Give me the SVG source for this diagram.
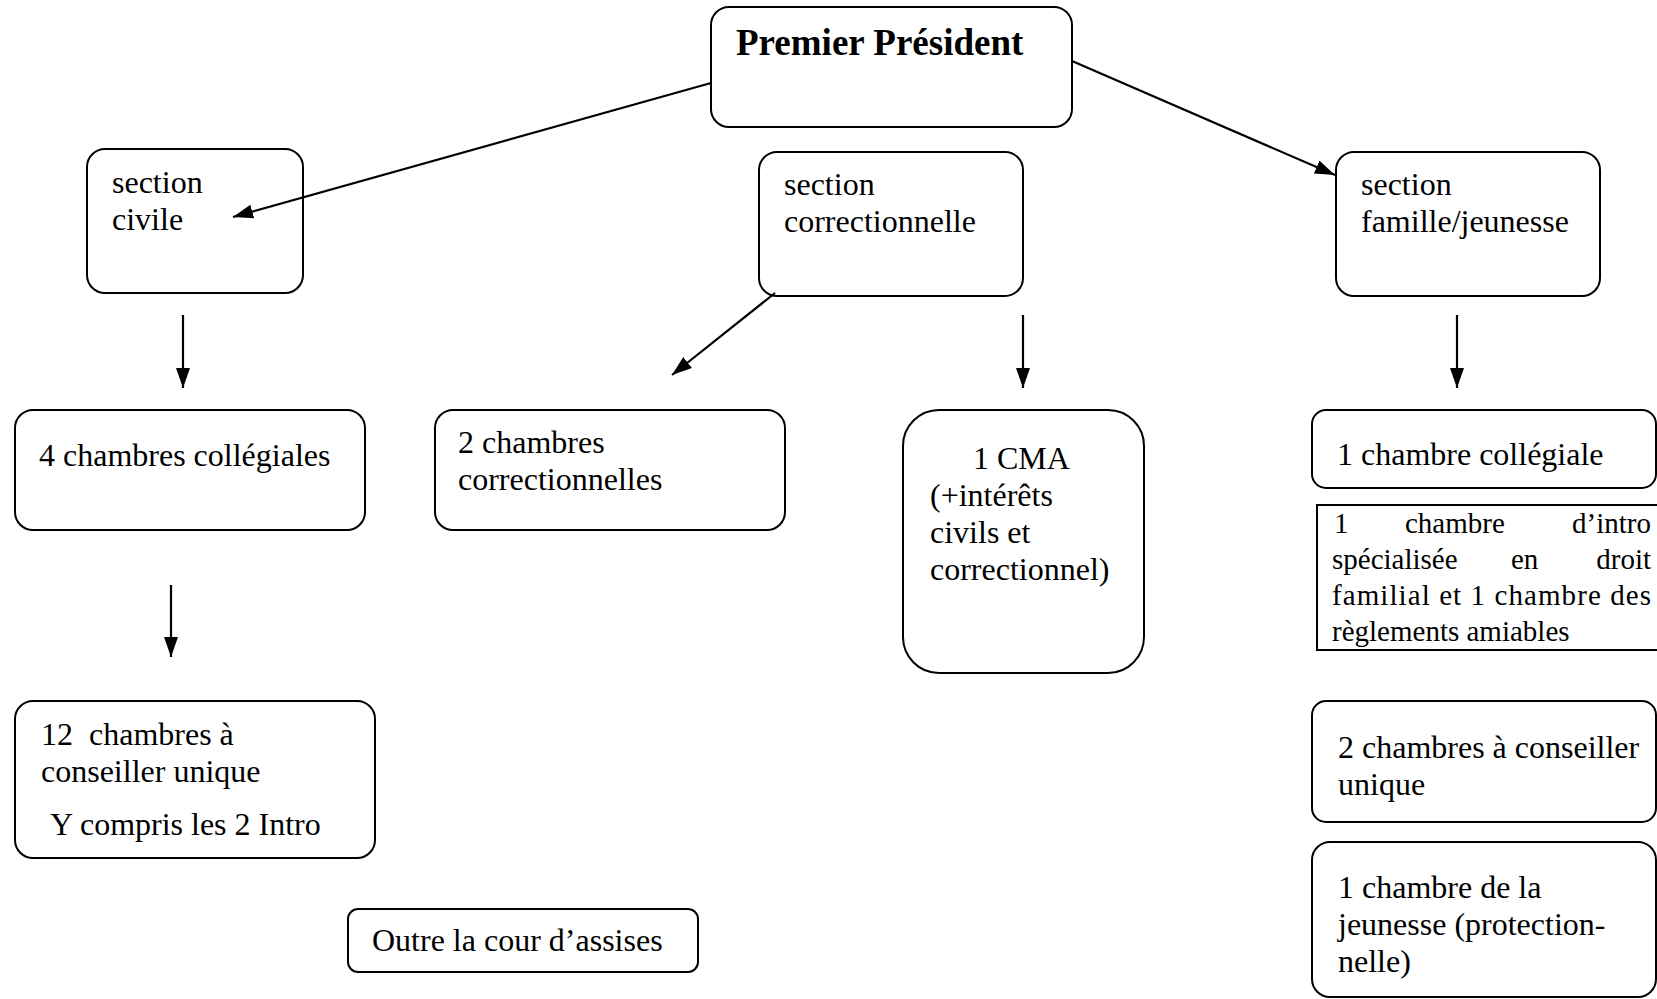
<svg xmlns="http://www.w3.org/2000/svg" width="1657" height="999" viewBox="0 0 1657 999">
<style>
.box{fill:#fff;stroke:#000;stroke-width:2}
.t{font-family:"Liberation Serif","Times New Roman",serif;font-size:32px;fill:#000}
.b{font-family:"Liberation Serif","Times New Roman",serif;font-size:37px;font-weight:bold;fill:#000}
.g{font-family:"Liberation Serif","Times New Roman",serif;font-size:29px;fill:#000}
.c{stroke:#000;stroke-width:2.2;fill:none;marker-end:url(#ah)}
</style>
<defs>
<marker id="ah" markerUnits="userSpaceOnUse" markerWidth="22" markerHeight="16" refX="20" refY="7" orient="auto">
<path d="M0,0 L20,7 L0,14 z" fill="#000"/>
</marker>
</defs>
<rect width="1657" height="999" fill="#fff"/>

<g id="premier">
<rect class="box" x="711" y="7" width="361" height="120" rx="18"/>
<text class="b" x="736" y="55">Premier Président</text>
</g>
<g id="section-civile">
<rect class="box" x="87" y="149" width="216" height="144" rx="18"/>
<text class="t" x="112" y="193">section</text>
<text class="t" x="112" y="230">civile</text>
</g>
<g id="section-correctionnelle">
<rect class="box" x="759" y="152" width="264" height="144" rx="18"/>
<text class="t" x="784" y="195">section</text>
<text class="t" x="784" y="232">correctionnelle</text>
</g>
<g id="section-famille">
<rect class="box" x="1336" y="152" width="264" height="144" rx="18"/>
<text class="t" x="1361" y="195">section</text>
<text class="t" x="1361" y="232">famille/jeunesse</text>
</g>
<g id="chambres-collegiales">
<rect class="box" x="15" y="410" width="350" height="120" rx="18"/>
<text class="t" x="39" y="466">4 chambres collégiales</text>
</g>
<g id="chambres-correctionnelles">
<rect class="box" x="435" y="410" width="350" height="120" rx="18"/>
<text class="t" x="458" y="453">2 chambres</text>
<text class="t" x="458" y="490">correctionnelles</text>
</g>
<g id="cma">
<rect class="box" x="903" y="410" width="241" height="263" rx="36"/>
<text class="t" x="973" y="469">1 CMA</text>
<text class="t" x="930" y="506">(+intérêts</text>
<text class="t" x="930" y="543">civils et</text>
<text class="t" x="930" y="580">correctionnel)</text>
</g>
<g id="chambre-collegiale">
<rect class="box" x="1312" y="410" width="344" height="78" rx="14"/>
<text class="t" x="1337" y="465">1 chambre collégiale</text>
</g>
<g id="chambre-intro">
<rect class="box" x="1317" y="505" width="345" height="145"/>
<text class="g" x="1334" y="533">1</text>
<text class="g" x="1405" y="533">chambre</text>
<text class="g" x="1651" y="533" text-anchor="end">d’intro</text>
<text class="g" x="1332" y="569">spécialisée</text>
<text class="g" x="1511" y="569">en</text>
<text class="g" x="1651" y="569" text-anchor="end">droit</text>
<text class="g" x="1332" y="605" textLength="319" lengthAdjust="spacing">familial et 1 chambre des</text>
<text class="g" x="1332" y="641">règlements amiables</text>
</g>
<g id="conseiller-unique">
<rect class="box" x="15" y="701" width="360" height="157" rx="18"/>
<text class="t" x="41" y="745" xml:space="preserve">12  chambres à</text>
<text class="t" x="41" y="782">conseiller unique</text>
<text class="t" x="50" y="835">Y compris les 2 Intro</text>
</g>
<g id="cour-assises">
<rect class="box" x="348" y="909" width="350" height="63" rx="10"/>
<text class="t" x="372" y="951">Outre la cour d’assises</text>
</g>
<g id="chambres-conseiller-famille">
<rect class="box" x="1312" y="701" width="344" height="121" rx="14"/>
<text class="t" x="1338" y="758">2 chambres à conseiller</text>
<text class="t" x="1338" y="795">unique</text>
</g>
<g id="chambre-jeunesse">
<rect class="box" x="1312" y="842" width="344" height="155" rx="18"/>
<text class="t" x="1338" y="898">1 chambre de la</text>
<text class="t" x="1338" y="935">jeunesse (protection-</text>
<text class="t" x="1338" y="972">nelle)</text>
</g>

<g id="connectors">
<line class="c" x1="711" y1="83" x2="233" y2="217"/>
<line class="c" x1="1072" y1="61" x2="1335" y2="175"/>
<line class="c" x1="775" y1="293" x2="672" y2="375"/>
<line class="c" x1="183" y1="315" x2="183" y2="388"/>
<line class="c" x1="1023" y1="315" x2="1023" y2="388"/>
<line class="c" x1="1457" y1="315" x2="1457" y2="388"/>
<line class="c" x1="171" y1="585" x2="171" y2="657"/>
</g>
</svg>
